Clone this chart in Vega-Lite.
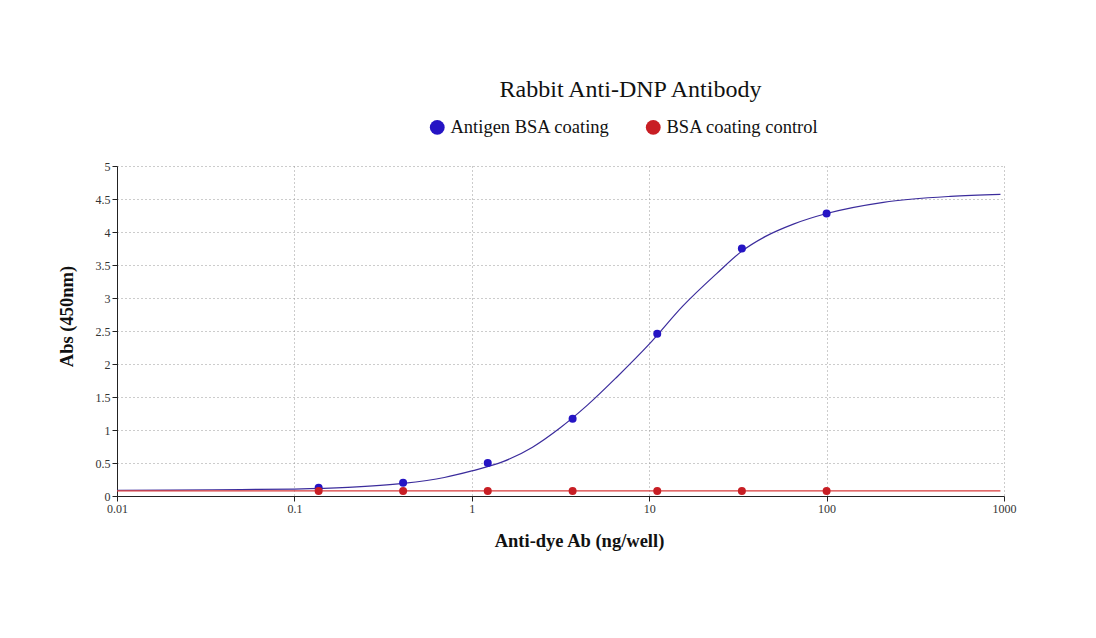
{
  "$schema": "https://vega.github.io/schema/vega-lite/v6.json",
  "width": 887,
  "height": 330,
  "autosize": "none",
  "padding": {"left": 117, "top": 166, "right": 92, "bottom": 142},
  "background": "white",
  "title": {
    "text": "Rabbit Anti-DNP Antibody",
    "font": "Liberation Serif",
    "fontSize": 24,
    "fontWeight": "normal",
    "color": "#111",
    "anchor": "middle",
    "dx": 70,
    "offset": 16
  },
  "config": {
    "view": {"stroke": null},
    "axis": {
      "labelFont": "Liberation Serif",
      "labelFontSize": 12,
      "labelColor": "#333",
      "labelFlush": false,
      "titleFont": "Liberation Serif",
      "titleFontSize": 18.5,
      "titleFontWeight": "bold",
      "titleColor": "#111",
      "gridDash": [1, 3],
      "gridColor": "#999",
      "domainColor": "#222",
      "tickColor": "#222",
      "tickSize": 5
    }
  },
  "datasets": {
    "curves": [
      {"series": "Antigen BSA coating", "dose": 0.01, "abs": 0.087},
      {"series": "Antigen BSA coating", "dose": 0.02, "abs": 0.09},
      {"series": "Antigen BSA coating", "dose": 0.05, "abs": 0.098},
      {"series": "Antigen BSA coating", "dose": 0.1, "abs": 0.105},
      {"series": "Antigen BSA coating", "dose": 0.2, "abs": 0.13},
      {"series": "Antigen BSA coating", "dose": 0.41, "abs": 0.19},
      {"series": "Antigen BSA coating", "dose": 0.7, "abs": 0.28},
      {"series": "Antigen BSA coating", "dose": 1.0, "abs": 0.38},
      {"series": "Antigen BSA coating", "dose": 1.5, "abs": 0.52},
      {"series": "Antigen BSA coating", "dose": 2.2, "abs": 0.74},
      {"series": "Antigen BSA coating", "dose": 3.14, "abs": 1.03},
      {"series": "Antigen BSA coating", "dose": 4.5, "abs": 1.38},
      {"series": "Antigen BSA coating", "dose": 6.56, "abs": 1.8},
      {"series": "Antigen BSA coating", "dose": 10, "abs": 2.3},
      {"series": "Antigen BSA coating", "dose": 15.5, "abs": 2.88},
      {"series": "Antigen BSA coating", "dose": 24, "abs": 3.37},
      {"series": "Antigen BSA coating", "dose": 33.3, "abs": 3.71},
      {"series": "Antigen BSA coating", "dose": 45, "abs": 3.93},
      {"series": "Antigen BSA coating", "dose": 65, "abs": 4.12},
      {"series": "Antigen BSA coating", "dose": 100, "abs": 4.28},
      {"series": "Antigen BSA coating", "dose": 209, "abs": 4.45},
      {"series": "Antigen BSA coating", "dose": 500, "abs": 4.54},
      {"series": "Antigen BSA coating", "dose": 955, "abs": 4.57},
      {"series": "BSA coating control", "dose": 0.01, "abs": 0.077},
      {"series": "BSA coating control", "dose": 955, "abs": 0.077}
    ],
    "points": [
      {"series": "Antigen BSA coating", "dose": 0.137, "abs": 0.126},
      {"series": "Antigen BSA coating", "dose": 0.41, "abs": 0.2},
      {"series": "Antigen BSA coating", "dose": 1.23, "abs": 0.5},
      {"series": "Antigen BSA coating", "dose": 3.7, "abs": 1.17},
      {"series": "Antigen BSA coating", "dose": 11.1, "abs": 2.46},
      {"series": "Antigen BSA coating", "dose": 33.3, "abs": 3.75},
      {"series": "Antigen BSA coating", "dose": 100, "abs": 4.28},
      {"series": "BSA coating control", "dose": 0.137, "abs": 0.077},
      {"series": "BSA coating control", "dose": 0.41, "abs": 0.076},
      {"series": "BSA coating control", "dose": 1.23, "abs": 0.077},
      {"series": "BSA coating control", "dose": 3.7, "abs": 0.077},
      {"series": "BSA coating control", "dose": 11.1, "abs": 0.077},
      {"series": "BSA coating control", "dose": 33.3, "abs": 0.077},
      {"series": "BSA coating control", "dose": 100, "abs": 0.076}
    ]
  },
  "encoding": {
    "x": {
      "field": "dose",
      "type": "quantitative",
      "scale": {"type": "log", "domain": [0.01, 1000]},
      "axis": {
        "values": [0.01, 0.1, 1, 10, 100, 1000],
        "format": "~g",
        "title": "Anti-dye Ab (ng/well)",
        "titlePadding": 17,
        "titleX": 462
      }
    },
    "y": {
      "field": "abs",
      "type": "quantitative",
      "scale": {"domain": [0, 5]},
      "axis": {
        "values": [0, 0.5, 1, 1.5, 2, 2.5, 3, 3.5, 4, 4.5, 5],
        "format": "~g",
        "title": "Abs (450nm)",
        "titlePadding": 19,
        "titleY": 150
      }
    }
  },
  "layer": [
    {
      "data": {"name": "curves"},
      "mark": {"type": "line", "strokeWidth": 1.2, "interpolate": "monotone", "clip": true},
      "encoding": {
        "color": {
          "field": "series",
          "type": "nominal",
          "scale": {"domain": ["Antigen BSA coating", "BSA coating control"], "range": ["#3b2c9c", "#d93a3a"]},
          "legend": null
        }
      }
    },
    {
      "data": {"name": "points"},
      "mark": {"type": "point", "filled": true, "opacity": 1, "size": 64, "shape": "circle"},
      "encoding": {
        "color": {
          "field": "series",
          "type": "nominal",
          "scale": {"domain": ["Antigen BSA coating", "BSA coating control"], "range": ["#2514c4", "#c81e24"]},
          "legend": {
            "orient": "none",
            "legendX": 311,
            "legendY": -48,
            "direction": "horizontal",
            "title": null,
            "symbolType": "circle",
            "symbolSize": 220,
            "symbolOpacity": 1,
            "labelFont": "Liberation Serif",
            "labelFontSize": 18.5,
            "labelColor": "#111",
            "columnPadding": 34
          }
        }
      }
    }
  ],
  "resolve": {"scale": {"color": "independent"}}
}
